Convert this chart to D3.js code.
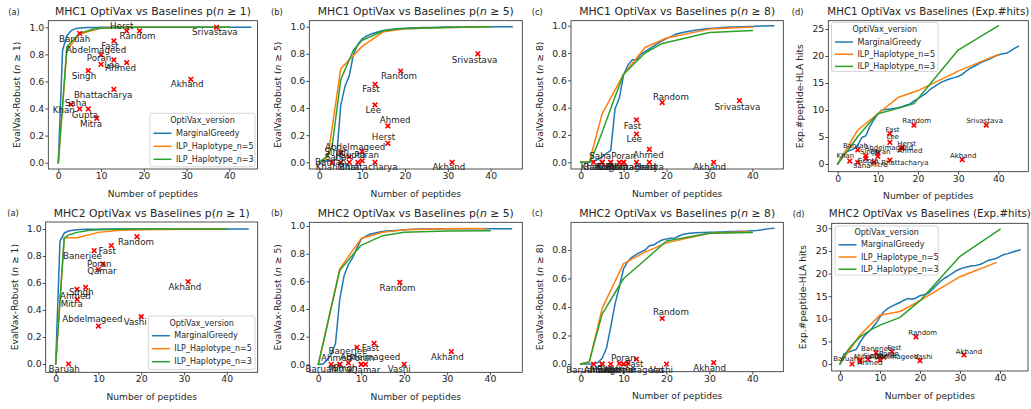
<!DOCTYPE html>
<html><head><meta charset="utf-8">
<script src="https://cdn.jsdelivr.net/npm/d3@7"></script>
<style>body{margin:0;background:#fff}svg{display:block}text{font-family:"DejaVu Sans",sans-serif}</style>
</head><body><svg id="c" width="1031" height="409"></svg>
<script>
// ================= DATA =================
const seriesNames = ["MarginalGreedy", "ILP_Haplotype_n=5", "ILP_Haplotype_n=3"];
const xTicks = [0, 10, 20, 30, 40];
const yTicksFrac = [0, 0.2, 0.4, 0.6, 0.8, 1.0];
const yTicksFracC2 = [0, 0.2, 0.4, 0.6, 0.8];
const yTicksHits1 = [0, 5, 10, 15, 20, 25];
const yTicksHits2 = [0, 5, 10, 15, 20, 25, 30];

const mgPeptides = [0,1,2,3,4,5,6,7,8,9,10,11,12,13,14,15,16,17,18,19,20,21,22,23,24,25,26,27,28,29,30,31,32,33,34,35,36,37,38,39,40,41,42,43,44,45];
const ilp5PeptidesMHC1 = [0,2,5,10,15,20,30,40];
const ilp3PeptidesMHC1 = [0,2,3,5,8,10,15,19,30,40];
const ilp5PeptidesMHC2 = [0,2,5,10,15,20,30,39];
const ilp3PeptidesMHC2 = [0,2,3,5,8,10,15,20,30,40];

// MHC1 curves
const mhc1N1MG = [0,0.83,0.94,0.975,0.99,0.995,0.997,0.998,0.999,0.999,1,1,1,1,1,1,1,1,1,1,1,1,1,1,1,1,1,1,1,1,1,1,1,1,1,1,1,1,1,1,1,1,1,1,1,1];
const mhc1N1ILP5 = [0,0.83,0.95,0.995,1,1,1,1];
const mhc1N1ILP3 = [0,0.855,0.89,0.955,0.985,0.993,0.999,1,1,1];
const mhc1N5MG = [0,0.01,0.01,0.01,0.02,0.42,0.56,0.64,0.80,0.87,0.91,0.93,0.945,0.955,0.965,0.972,0.977,0.981,0.984,0.987,0.989,0.991,0.992,0.993,0.994,0.995,0.995,0.996,0.996,0.997,0.997,0.997,0.998,0.998,0.998,0.998,0.999,0.999,0.999,0.999,0.999,1,1,1,1,1];
const mhc1N5ILP5 = [0,0.04,0.69,0.855,0.963,0.985,0.995,1.0];
const mhc1N5ILP3 = [0,0.05,0.12,0.61,0.83,0.90,0.97,0.985,0.995,1.0];
const mhc1N8MG = [0,0,0,0.01,0.02,0.04,0.065,0.085,0.39,0.47,0.64,0.71,0.75,0.75,0.79,0.81,0.83,0.85,0.87,0.89,0.905,0.92,0.935,0.945,0.952,0.958,0.963,0.968,0.972,0.976,0.98,0.982,0.984,0.986,0.988,0.99,0.991,0.992,0.993,0.994,0.995,0.996,0.997,0.998,0.999,1.0];
const mhc1N8ILP5 = [0,0,0.355,0.645,0.84,0.91,0.975,0.99];
const mhc1N8ILP3 = [0,0,0.06,0.22,0.48,0.645,0.80,0.87,0.95,0.965];
const mhc1HitsMG = [0,1.4,2.2,2.5,2.8,3.5,4.9,5.2,6.9,8.2,9.3,10.0,10.1,10.2,10.3,10.4,10.6,10.9,11.1,11.7,12.1,12.6,13.1,13.8,14.3,14.8,15.2,15.5,15.8,16.0,16.2,16.6,17.2,17.7,18.1,18.5,18.9,19.2,19.5,19.9,20.2,20.4,20.5,20.9,21.4,21.8];
const mhc1HitsILP5 = [0,2.5,6.3,9.3,12.3,13.6,17.2,20.3];
const mhc1HitsILP3 = [0,2.0,3.0,5.1,7.7,9.3,10.3,11.2,21.1,25.6];

// MHC2 curves
const mhc2N1MG = [0,0.91,0.97,0.985,0.99,0.995,0.997,0.998,0.998,0.999,0.999,1,1,1,1,1,1,1,1,1,1,1,1,1,1,1,1,1,1,1,1,1,1,1,1,1,1,1,1,1,1,1,1,1,1,1];
const mhc2N1ILP5 = [0,0.935,0.935,0.975,0.99,0.995,0.998,1.0];
const mhc2N1ILP3 = [0,0.935,0.955,0.975,0.99,0.995,0.998,1,1,1];
const mhc2N5MG = [0,0,0.03,0.07,0.15,0.47,0.64,0.72,0.77,0.84,0.905,0.925,0.94,0.948,0.955,0.96,0.963,0.966,0.968,0.97,0.972,0.974,0.976,0.977,0.978,0.978,0.979,0.979,0.979,0.98,0.98,0.98,0.98,0.98,0.98,0.98,0.98,0.98,0.98,0.98,0.98,0.98,0.98,0.98,0.98,0.98];
const mhc2N5ILP5 = [0,0.275,0.69,0.91,0.955,0.972,0.98,0.982];
const mhc2N5ILP3 = [0,0.27,0.41,0.68,0.79,0.86,0.93,0.955,0.963,0.966];
const mhc2N8MG = [0,0,0,0,0.01,0.04,0.11,0.26,0.42,0.54,0.67,0.72,0.75,0.77,0.785,0.8,0.83,0.835,0.855,0.87,0.878,0.882,0.885,0.9,0.91,0.915,0.92,0.921,0.922,0.923,0.924,0.925,0.926,0.927,0.928,0.929,0.93,0.931,0.932,0.933,0.935,0.937,0.94,0.945,0.95,0.952];
const mhc2N8ILP5 = [0,0.015,0.39,0.705,0.785,0.85,0.917,0.928];
const mhc2N8ILP3 = [0,0.015,0.13,0.35,0.5,0.6,0.73,0.863,0.917,0.923];
const mhc2HitsMG = [0,2.2,2.6,2.9,3.2,4.8,6.1,7.0,7.9,9.0,10.4,11.6,12.3,12.8,13.2,13.6,14.1,14.5,14.3,14.6,15.1,15.3,15.6,16.4,17.3,18.2,18.9,19.4,20.0,20.6,21.0,21.3,21.5,21.7,21.8,22.0,22.4,22.9,23.1,23.3,23.8,24.2,24.4,24.7,25.0,25.2];
const mhc2HitsILP5 = [0,2.6,6.4,10.8,11.6,14.0,19.3,22.4];
const mhc2HitsILP3 = [0,3.1,4.2,6.0,7.7,8.6,10.3,14.0,23.8,29.8];

// Baselines
const mhc1Methods = ["Baruah","Abdelmageed","Singh","Khan","Saha","Gupta","Mitra","Bhattacharya","Poran","Lee","Fast","Ahmed","Herst","Random","Srivastava","Akhand"];
const mhc1Peptides = [5,10,7,3,5,7,9,13,10,13,13,16,16,19,37,31];
const mhc1N1 = [0.955,0.796,0.68,0.431,0.397,0.397,0.328,0.542,0.727,0.759,0.899,0.739,0.973,0.973,1.0,0.616];
const mhc1N5 = [0.07,0.08,0.04,0,0,0,0,0,0.01,0.423,0.575,0.268,0.14,0.673,0.80,0];
const mhc1N8 = [0,0,0,0,0,0,0,0,0,0.207,0.31,0.095,0,0.437,0.451,0];
const mhc1Hits = [2.6,2.0,1.5,0.55,0.3,1.0,0.35,0.7,1.4,4.0,5.6,2.9,3.1,7.2,7.2,0.8];

const mhc2Methods = ["Baruah","Banerjee","Fast","Random","Poran","Qamar","Singh","Ahmed","Mitra","Abdelmageed","Vashi","Akhand"];
const mhc2Peptides = [3,9,13,19,11,10,7,5,5,10,20,31];
const mhc2N1 = [0,0.84,0.877,0.943,0.74,0.70,0.568,0.553,0.479,0.281,0.351,0.61];
const mhc2N5 = [0,0.123,0.152,0.593,0,0,0.01,0,0,0,0,0.092];
const mhc2N8 = [0,0.005,0.035,0.32,0.005,0,0,0,0,0,0,0.01];
const mhc2Hits = [0,2.5,2.7,6.0,1.5,1.6,1.1,0.66,0.9,0.9,0.74,2.0];

// ================= LAYOUT =================
const colors = ["#1f77b4", "#ff7f0e", "#2ca02c"];
const svg = d3.select("#c");

const labelOffsets = {
  t_a:{Baruah:[-5,5.7],Abdelmageed:[-5,-5],Singh:[-4.3,5.3],Khan:[-7.3,5.7],Saha:[-4,-6],Gupta:[-3.3,6],Mitra:[-5.7,6],Bhattacharya:[-10.7,5.3],Poran:[-2,-6],Lee:[-2,5.3],Fast:[-4,5],Ahmed:[-6,5.3],Herst:[-5,-5],Random:[-2,5],Srivastava:[-1.7,5],Akhand:[-3.7,5]},
  t_b:{Srivastava:[-3.3,5.7],Random:[-1.7,5],Fast:[-4,5],Lee:[-1.7,5],Ahmed:[7.3,-6],Herst:[-4.3,-6.7],Akhand:[-3.3,4.3],Bhattacharya:[-6.7,4.3],Abdelmageed:[-7,-4.8],Baruah:[-10,9],Khan:[-5.5,4.3],Saha:[-5,-5],Singh:[-12.6,-4.6],Gupta:[3,-7.3],Poran:[4.5,-6],Mitra:[-9.6,4.4]},
  t_c:{Random:[8.7,-5.3],Srivastava:[-2,6],Fast:[-4,5.7],Lee:[-2.3,5.3],Ahmed:[-1,5.7],Akhand:[-4,4.3],Saha:[-2,-6.3],Poran:[0,-6.3],Khan:[-2,4.3],Baruah:[-3,4.3],Singh:[-3,4.3],Gupta:[-1,4.3],Mitra:[-2,4.3],Abdelmageed:[2,4.3],Bhattacharya:[-2,4.3],Herst:[-3,4.3]},
  t_d:{Random:[2.7,-3.7],Srivastava:[-1.7,-4],Fast:[2.7,-4],Lee:[2.7,-5.3],Herst:[4.7,-3.7],Ahmed:[8,3],Akhand:[1,-4],Bhattacharya:[15,3],Baruah:[-2.3,-4.3],Khan:[-4.3,-5],Saha:[4,3.3],Mitra:[5,2.7],Singh:[4,-4],Gupta:[2,2],Abdelmageed:[11,-5],Poran:[2.7,-4]},
  b_a:{Random:[-1,5.7],Fast:[-4,5.3],Banerjee:[-11.7,5.3],Poran:[-3.4,0],Qamar:[3.5,1.2],Akhand:[-3.3,5.7],Singh:[-4.3,5],Ahmed:[-1.7,6.3],Mitra:[-5.3,5],Abdelmageed:[-6,-6.7],Vashi:[-6,5],Baruah:[-4.3,5.3]},
  b_b:{Random:[-2.3,5.3],Akhand:[-4,5],Fast:[-3.6,5],Banerjee:[-9,3.7],Vashi:[-5,5],Baruah:[-10,5],Ahmed:[-3.3,-6],Mitra:[0,5],Singh:[-3,5],Abdelmageed:[9,-7.7],Poran:[-3.3,-6],Qamar:[4.3,6]},
  b_c:{Random:[8.7,-6.7],Akhand:[-4,5.7],Poran:[-4.5,-5],Fast:[-1.7,5],Vashi:[-5,6],Baruah:[-11.7,6],Abdelmageed:[10,6],Ahmed:[-3,6],Mitra:[-1,6],Singh:[-2,6],Banerjee:[-3,6],Qamar:[-2,6]},
  b_d:{Random:[6.7,-4],Akhand:[5,-3.3],Vashi:[3.3,-3.3],Fast:[2.3,-3.3],Banerjee:[0.7,-3.3],Baruah:[-6.3,-4.7],Ahmed:[10,2.3],Mitra:[3,-3],Singh:[5,-3],Abdelmageed:[14,-3.3],Qamar:[6,-1],Poran:[5,-3]}
};

const panels = [
 {id:"t_a",letter:"(a)",letterX:8.3,letterY:14.5,title:["MHC1 OptiVax vs Baselines p(","n"," ≥ 1)"],titleY:15,titleSize:10.8,ylab:["EvalVax-Robust (","n"," ≥ 1)"],ylabDx:32,
  frame:[48.3,257.5,20.7,169],x0:58.3,x40:229.3,yv:[0,1],ypx:[162.7,27.3],yTicks:yTicksFrac,fmt:".1f",
  series:[[mgPeptides,mhc1N1MG],[ilp5PeptidesMHC1,mhc1N1ILP5],[ilp3PeptidesMHC1,mhc1N1ILP3]],
  methods:mhc1Methods,px:mhc1Peptides,py:mhc1N1,annot:8.7,
  legend:{x:150,y:113.3,w:105,h:53.5,t:7.4,e0:20,step:13}},
 {id:"t_b",letter:"(b)",letterX:271,letterY:14.5,title:["MHC1 OptiVax vs Baselines p(","n"," ≥ 5)"],titleY:15,titleSize:10.8,ylab:["EvalVax-Robust (","n"," ≥ 5)"],ylabDx:32,
  frame:[309.3,522.3,20.7,169],x0:319.3,x40:490.7,yv:[0,1],ypx:[162.3,26.7],yTicks:yTicksFrac,fmt:".1f",
  series:[[mgPeptides,mhc1N5MG],[ilp5PeptidesMHC1,mhc1N5ILP5],[ilp3PeptidesMHC1,mhc1N5ILP3]],
  methods:mhc1Methods,px:mhc1Peptides,py:mhc1N5,annot:8.7},
 {id:"t_c",letter:"(c)",letterX:531.7,letterY:14.5,title:["MHC1 OptiVax vs Baselines p(","n"," ≥ 8)"],titleY:15,titleSize:10.8,ylab:["EvalVax-Robust (","n"," ≥ 8)"],ylabDx:32,
  frame:[571,783.3,20.7,169],x0:580.7,x40:752.3,yv:[0,1],ypx:[162.3,25.7],yTicks:yTicksFrac,fmt:".1f",
  series:[[mgPeptides,mhc1N8MG],[ilp5PeptidesMHC1,mhc1N8ILP5],[ilp3PeptidesMHC1,mhc1N8ILP3]],
  methods:mhc1Methods,px:mhc1Peptides,py:mhc1N8,annot:8.7},
 {id:"t_d",letter:"(d)",letterX:791.7,letterY:14.5,title:["MHC1 OptiVax vs Baselines (Exp.#hits)"],titleY:15,titleSize:10.3,ylab:["Exp.#peptide-HLA hits"],ylabDx:29.5,
  frame:[828.3,1028.3,20.7,171.7],x0:837.7,x40:998.3,yv:[0,25],ypx:[164,29],yTicks:yTicksHits1,fmt:"d",
  series:[[mgPeptides,mhc1HitsMG],[ilp5PeptidesMHC1,mhc1HitsILP5],[ilp3PeptidesMHC1,mhc1HitsILP3]],
  methods:mhc1Methods,px:mhc1Peptides,py:mhc1Hits,annot:7,
  legend:{x:831.5,y:22.5,w:106.5,h:49,t:7.3,e0:19.5,step:12.2}},
 {id:"b_a",letter:"(a)",letterX:7.3,letterY:216,title:["MHC2 OptiVax vs Baselines p(","n"," ≥ 1)"],titleY:216.7,titleSize:10.8,ylab:["EvalVax-Robust (","n"," ≥ 1)"],ylabDx:32,
  frame:[45.7,257.7,222,372.3],x0:55.7,x40:226.7,yv:[0,1],ypx:[364,229],yTicks:yTicksFrac,fmt:".1f",
  series:[[mgPeptides,mhc2N1MG],[ilp5PeptidesMHC2,mhc2N1ILP5],[ilp3PeptidesMHC2,mhc2N1ILP3]],
  methods:mhc2Methods,px:mhc2Peptides,py:mhc2N1,annot:8.7,
  legend:{x:148.3,y:316,w:106.7,h:53.5,t:7.3,e0:19.7,step:13}},
 {id:"b_b",letter:"(b)",letterX:271,letterY:216,title:["MHC2 OptiVax vs Baselines p(","n"," ≥ 5)"],titleY:216.7,titleSize:10.8,ylab:["EvalVax-Robust (","n"," ≥ 5)"],ylabDx:32,
  frame:[309.3,522.3,222.3,372.3],x0:318.3,x40:490,yv:[0,1],ypx:[364.3,226],yTicks:yTicksFrac,fmt:".1f",
  series:[[mgPeptides,mhc2N5MG],[ilp5PeptidesMHC2,mhc2N5ILP5],[ilp3PeptidesMHC2,mhc2N5ILP3]],
  methods:mhc2Methods,px:mhc2Peptides,py:mhc2N5,annot:8.7},
 {id:"b_c",letter:"(c)",letterX:531.7,letterY:216,title:["MHC2 OptiVax vs Baselines p(","n"," ≥ 8)"],titleY:216.7,titleSize:10.8,ylab:["EvalVax-Robust (","n"," ≥ 8)"],ylabDx:32,
  frame:[571,783.3,222.3,371.7],x0:580.7,x40:752.3,yv:[0,0.8],ypx:[364,250],yTicks:yTicksFracC2,fmt:".1f",
  series:[[mgPeptides,mhc2N8MG],[ilp5PeptidesMHC2,mhc2N8ILP5],[ilp3PeptidesMHC2,mhc2N8ILP3]],
  methods:mhc2Methods,px:mhc2Peptides,py:mhc2N8,annot:8.7},
 {id:"b_d",letter:"(d)",letterX:792.7,letterY:217,title:["MHC2 OptiVax vs Baselines (Exp.#hits)"],titleY:216.7,titleSize:10.3,ylab:["Exp.#peptide-HLA hits"],ylabDx:29.5,
  frame:[831.7,1028,223.3,371],x0:840,x40:1000,yv:[0,30],ypx:[364,228.3],yTicks:yTicksHits2,fmt:"d",
  series:[[mgPeptides,mhc2HitsMG],[ilp5PeptidesMHC2,mhc2HitsILP5],[ilp3PeptidesMHC2,mhc2HitsILP3]],
  methods:mhc2Methods,px:mhc2Peptides,py:mhc2Hits,annot:7,
  legend:{x:835,y:226,w:103.3,h:49,t:6.9,e0:18.8,step:12.2}}
];

function rich(sel, parts){
  parts.forEach((p,i)=>{ sel.append("tspan").text(p).attr("font-style", i===1 ? "italic" : null); });
}

panels.forEach(p => {
  const [L,R,T,B] = p.frame;
  const g = svg.append("g");
  const x = d3.scaleLinear().domain([0,40]).range([p.x0,p.x40]);
  const y = d3.scaleLinear().domain(p.yv).range(p.ypx);
  const clipId = "clip_"+p.id;
  g.append("clipPath").attr("id",clipId).append("rect").attr("x",L).attr("y",T).attr("width",R-L).attr("height",B-T);

  const line = d3.line().x(d=>x(d[0])).y(d=>y(d[1]));
  const lg = g.append("g").attr("clip-path",`url(#${clipId})`);
  p.series.forEach((s,i)=>{
    lg.append("path").datum(d3.zip(s[0],s[1])).attr("d",line)
      .attr("fill","none").attr("stroke",colors[i]).attr("stroke-width",1.5)
      .attr("stroke-linejoin","round").attr("stroke-linecap","square");
  });

  const pts = p.methods.map((m,i)=>({name:m, x:p.px[i], y:p.py[i]}));
  const s = 2.3;
  const mg = g.append("g").attr("stroke","#ff0000").attr("stroke-width",1.6).attr("stroke-linecap","butt");
  pts.forEach(d=>{
    const cx=x(d.x), cy=y(d.y);
    mg.append("path").attr("d",`M${cx-s},${cy-s}L${cx+s},${cy+s}M${cx-s},${cy+s}L${cx+s},${cy-s}`);
  });
  const offs = labelOffsets[p.id];
  pts.forEach(d=>{
    const o = offs[d.name] || [-3,5];
    g.append("text").attr("x",x(d.x)+o[0]).attr("y",y(d.y)+o[1])
      .attr("text-anchor","middle").attr("dominant-baseline","central")
      .attr("font-size",p.annot).attr("fill","#222").text(d.name);
  });

  const xa = d3.axisBottom(x).tickValues(xTicks).tickSize(3).tickPadding(0.6).tickFormat(d3.format("d"));
  const gx = g.append("g").attr("transform",`translate(0,${B})`).call(xa);
  gx.select(".domain").remove();
  gx.selectAll("text").attr("font-size",9.3).attr("fill","#262626").attr("font-family","DejaVu Sans");
  gx.selectAll("line").attr("stroke","#262626").attr("stroke-width",0.8);
  const ya = d3.axisLeft(y).tickValues(p.yTicks).tickSize(3).tickPadding(1).tickFormat(d3.format(p.fmt));
  const gy = g.append("g").attr("transform",`translate(${L},0)`).call(ya);
  gy.select(".domain").remove();
  gy.selectAll("text").attr("font-size",9.3).attr("fill","#262626").attr("font-family","DejaVu Sans");
  gy.selectAll("line").attr("stroke","#262626").attr("stroke-width",0.8);
  g.append("rect").attr("x",L).attr("y",T).attr("width",R-L).attr("height",B-T)
    .attr("fill","none").attr("stroke","#262626").attr("stroke-width",0.8);

  const tt = g.append("text").attr("x",(L+R)/2).attr("y",p.titleY).attr("text-anchor","middle")
    .attr("font-size",p.titleSize).attr("fill","#262626");
  rich(tt,p.title);
  g.append("text").attr("x",p.letterX).attr("y",p.letterY).attr("font-size",8.3).attr("fill","#262626").text(p.letter);
  g.append("text").attr("x",(L+R)/2).attr("y",B+27.5).attr("text-anchor","middle")
    .attr("font-size",9.1).attr("fill","#262626").text("Number of peptides");
  const yl = g.append("text").attr("transform",`translate(${L-p.ylabDx},${(T+B)/2}) rotate(-90)`)
    .attr("text-anchor","middle").attr("dominant-baseline","central").attr("font-size",9.2).attr("fill","#262626");
  rich(yl,p.ylab);

  if (p.legend){
    const lgd = p.legend;
    const G = g.append("g");
    G.append("rect").attr("x",lgd.x).attr("y",lgd.y).attr("width",lgd.w).attr("height",lgd.h)
      .attr("rx",2).attr("fill","#fff").attr("fill-opacity",0.8).attr("stroke","#cccccc").attr("stroke-width",0.8);
    G.append("text").attr("x",lgd.x+lgd.w/2).attr("y",lgd.y+lgd.t).attr("text-anchor","middle")
      .attr("dominant-baseline","central").attr("font-size",8).attr("fill","#262626").text("OptiVax_version");
    seriesNames.forEach((n,i)=>{
      const yy = lgd.y+lgd.e0+i*lgd.step;
      G.append("line").attr("x1",lgd.x+3.5).attr("x2",lgd.x+21.5).attr("y1",yy).attr("y2",yy)
        .attr("stroke",colors[i]).attr("stroke-width",1.5);
      G.append("text").attr("x",lgd.x+26).attr("y",yy).attr("dominant-baseline","central")
        .attr("font-size",8).attr("fill","#262626").text(n);
    });
  }
});
</script></body></html>
